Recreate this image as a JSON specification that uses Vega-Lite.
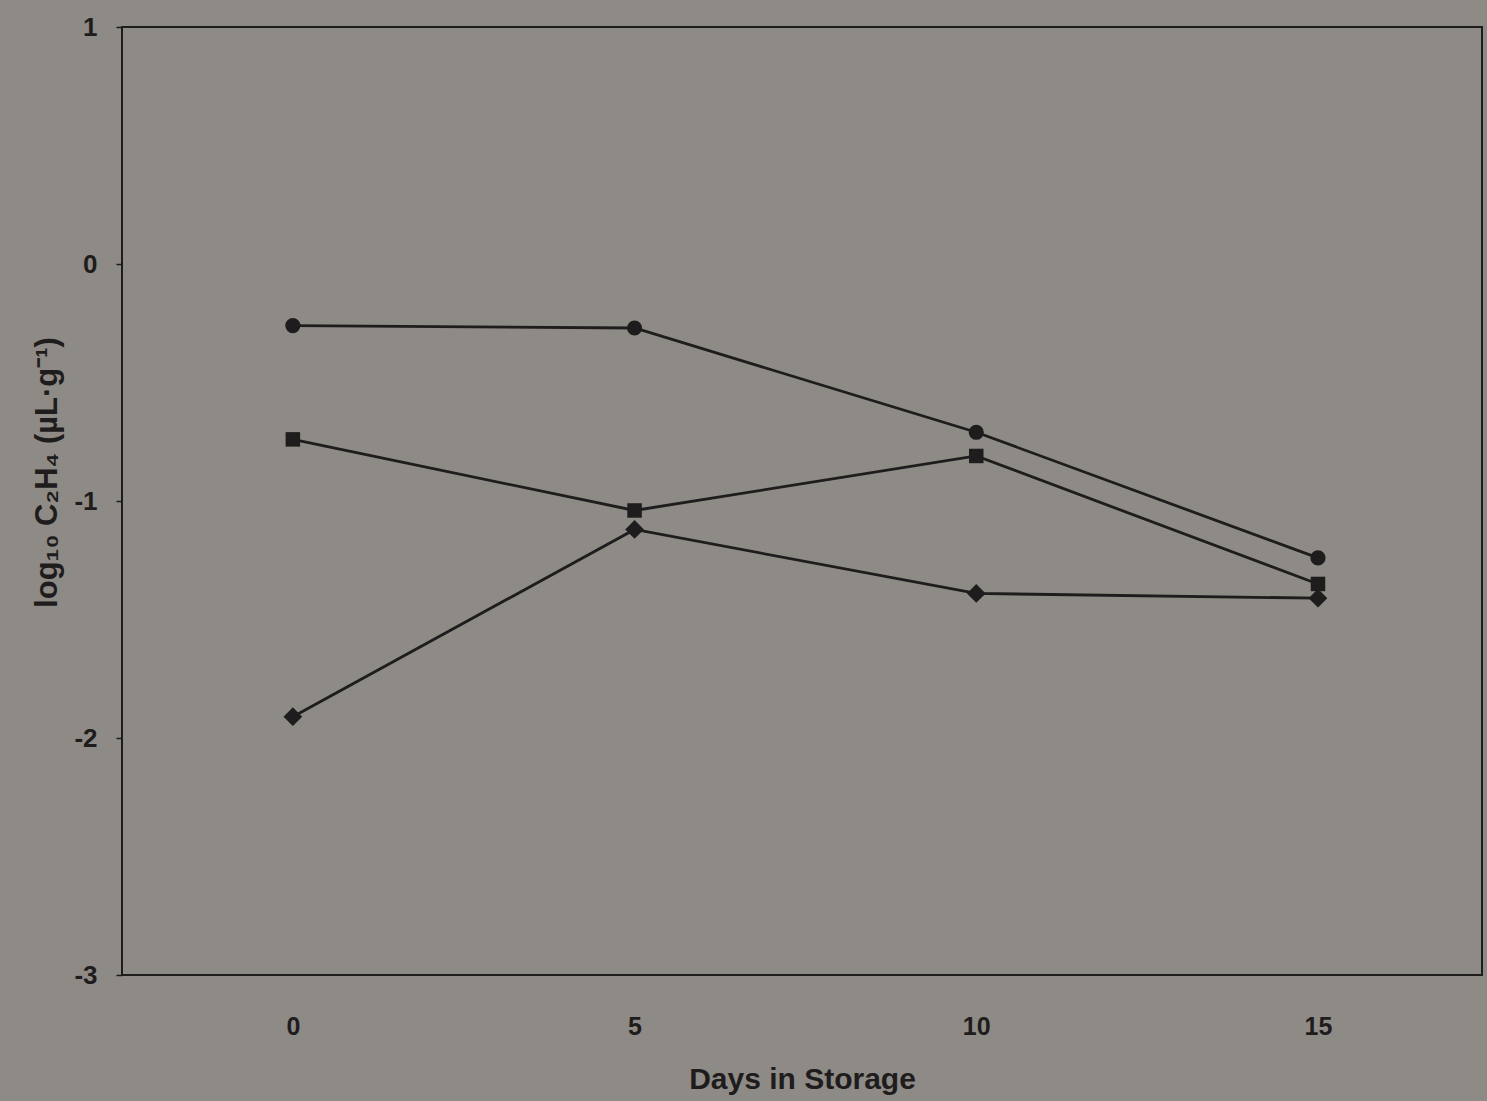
{
  "$schema": "https://vega.github.io/schema/vega-lite/v6.json",
  "width": 1360,
  "height": 948,
  "autosize": {"type": "none"},
  "padding": {"left": 122, "top": 27, "right": 5, "bottom": 126},
  "background": "#8e8a85",
  "config": {
    "view": {"stroke": "#1e1c1c", "strokeWidth": 2, "fill": "#8e8a85"},
    "font": "Liberation Sans"
  },
  "data": {
    "values": [
      {"series": "A", "day": 0, "value": -0.26},
      {"series": "A", "day": 5, "value": -0.27},
      {"series": "A", "day": 10, "value": -0.71},
      {"series": "A", "day": 15, "value": -1.24},
      {"series": "B", "day": 0, "value": -0.74},
      {"series": "B", "day": 5, "value": -1.04},
      {"series": "B", "day": 10, "value": -0.81},
      {"series": "B", "day": 15, "value": -1.35},
      {"series": "C", "day": 0, "value": -1.91},
      {"series": "C", "day": 5, "value": -1.12},
      {"series": "C", "day": 10, "value": -1.39},
      {"series": "C", "day": 15, "value": -1.41}
    ]
  },
  "encoding": {
    "x": {
      "field": "day", "type": "quantitative",
      "scale": {"domain": [-2.5, 17.4], "nice": false, "zero": false},
      "axis": {
        "values": [0, 5, 10, 15], "title": "Days in Storage",
        "domain": false, "ticks": false, "grid": false,
        "labelFontSize": 25, "labelFontWeight": "bold", "labelColor": "#1e1c1c",
        "labelPadding": 39,
        "titleFontSize": 30, "titleFontWeight": "bold", "titleColor": "#1e1c1c",
        "titlePadding": 25
      }
    },
    "y": {
      "field": "value", "type": "quantitative",
      "scale": {"domain": [-3, 1], "nice": false, "zero": false},
      "axis": {
        "values": [-3, -2, -1, 0, 1], "title": "log₁₀ C₂H₄ (µL·g⁻¹)",
        "labelExpr": "replace(datum.label, '−', '-')",
        "domain": false, "ticks": true, "tickSize": 6, "tickColor": "#1e1c1c", "tickWidth": 1.5,
        "grid": false,
        "labelFontSize": 26, "labelFontWeight": "bold", "labelColor": "#1e1c1c",
        "labelPadding": 19,
        "titleFontSize": 31, "titleFontWeight": "bold", "titleColor": "#1e1c1c",
        "titlePadding": 10, "titleY": 445
      }
    }
  },
  "layer": [
    {
      "mark": {"type": "line", "color": "#1e1c1c", "strokeWidth": 2.8},
      "encoding": {"detail": {"field": "series"}}
    },
    {
      "mark": {"type": "point", "filled": true, "color": "#1e1c1c", "opacity": 1},
      "encoding": {
        "shape": {
          "field": "series", "type": "nominal",
          "scale": {"domain": ["A", "B", "C"], "range": ["circle", "square", "diamond"]},
          "legend": null
        },
        "size": {
          "field": "series", "type": "ordinal",
          "scale": {"type": "ordinal", "domain": ["A", "B", "C"], "range": [230, 210, 350]},
          "legend": null
        }
      }
    }
  ]
}
